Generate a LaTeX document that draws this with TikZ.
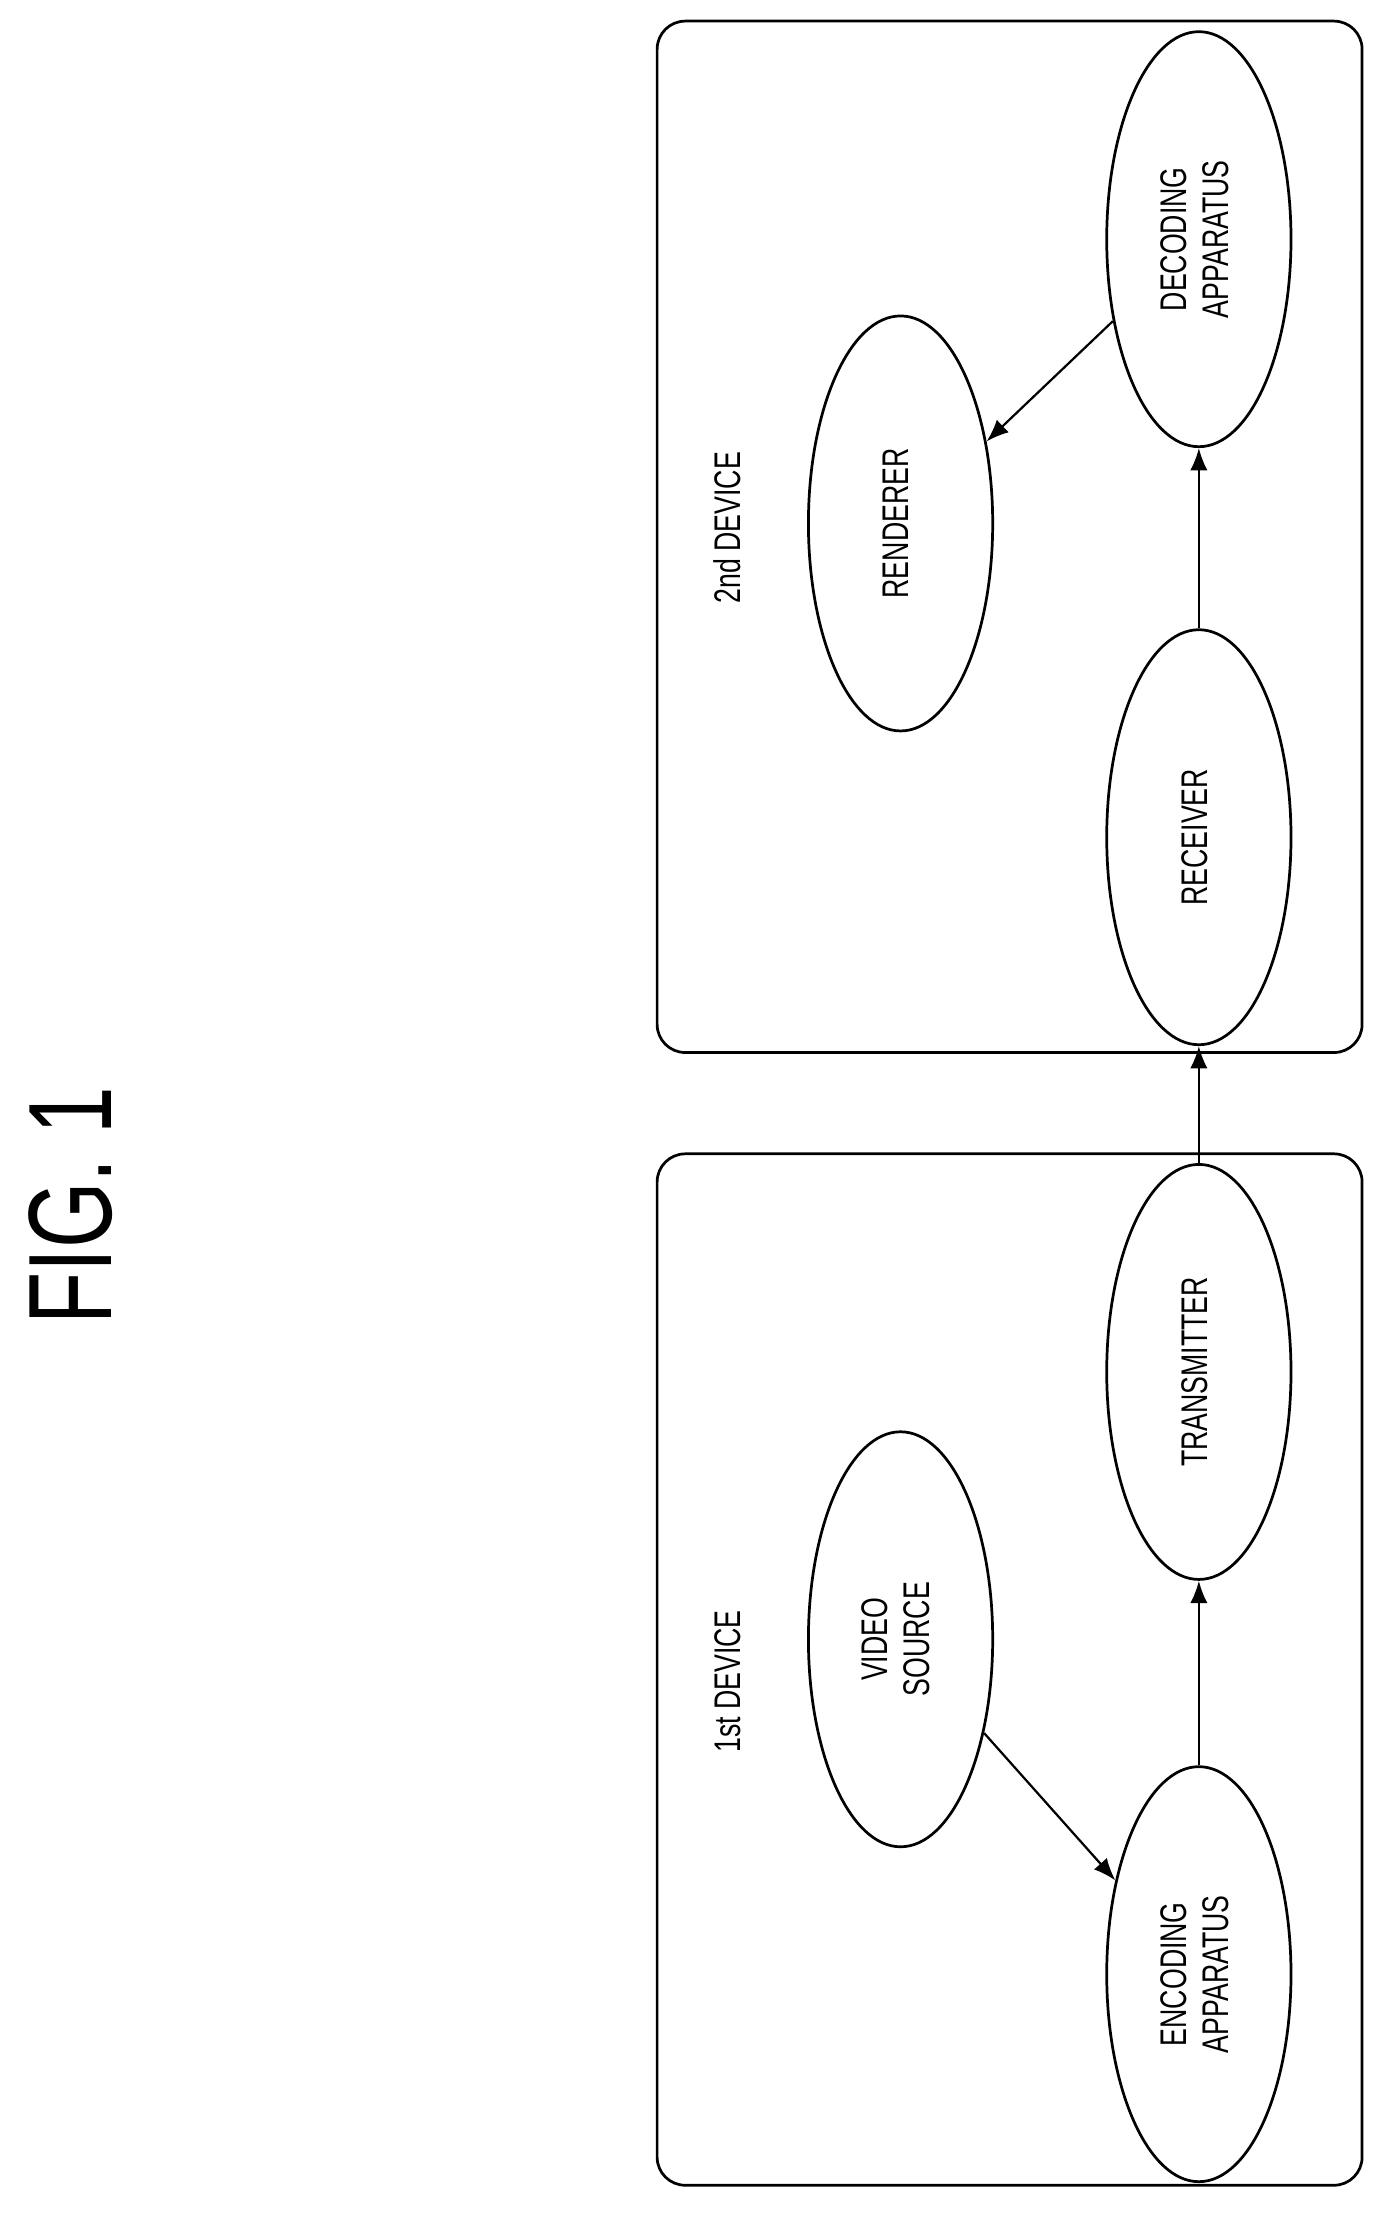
\documentclass[tikz,border=0pt]{standalone}
\usepackage{fontspec}
\setmainfont{Liberation Sans}
\usetikzlibrary{shapes.geometric,arrows.meta}
\newcommand{\narrowtxt}[1]{\rotatebox{90}{\scalebox{0.72}[1]{\begin{tabular}{@{}c@{}}#1\end{tabular}}}}
\tikzset{
  blob/.style={ellipse, draw, line width=1.1pt, minimum width=2.62cm, minimum height=5.9cm, inner sep=0pt,
    font=\fontsize{15}{17}\selectfont},
  device/.style={draw, line width=1.1pt, rounded corners=0.4cm},
  flow/.style={-{Latex[length=9pt,width=7pt]}, line width=0.9pt}
}
\begin{document}
\begin{tikzpicture}[x=0.02cm, y=-0.02cm]
  \useasboundingbox (0,0) rectangle (990,1577);

  % Title
  \node (title) at (50,857) {\rotatebox{90}{\scalebox{0.72}[1]{\fontsize{48}{50}\selectfont FIG. 1}}};

  % Devices
  \draw[device] (467,820) rectangle (968,1553);
  \draw[device] (467,15) rectangle (968,748);
  \node (lbl1) at (520,1195) {\narrowtxt{\fontsize{15}{17}\selectfont 1st DEVICE}};
  \node (lbl2) at (520,375) {\narrowtxt{\fontsize{15}{17}\selectfont 2nd DEVICE}};

  % First device
  \node[blob] (enc) at (852,1403) {\narrowtxt{ENCODING\\APPARATUS}};
  \node[blob] (src) at (640,1165) {\narrowtxt{VIDEO\\SOURCE}};
  \node[blob] (tx) at (852,975) {\narrowtxt{TRANSMITTER}};

  % Second device
  \node[blob] (rx) at (852,595) {\narrowtxt{RECEIVER}};
  \node[blob] (dec) at (852,170) {\narrowtxt{DECODING\\APPARATUS}};
  \node[blob] (ren) at (640,372) {\narrowtxt{RENDERER}};

  % Connectors
  \draw[flow] (src) -- (enc);
  \draw[flow] (enc) -- (tx);
  \draw[flow] (tx) -- (rx);
  \draw[flow] (rx) -- (dec);
  \draw[flow] (dec) -- (ren);
\end{tikzpicture}
\end{document}
